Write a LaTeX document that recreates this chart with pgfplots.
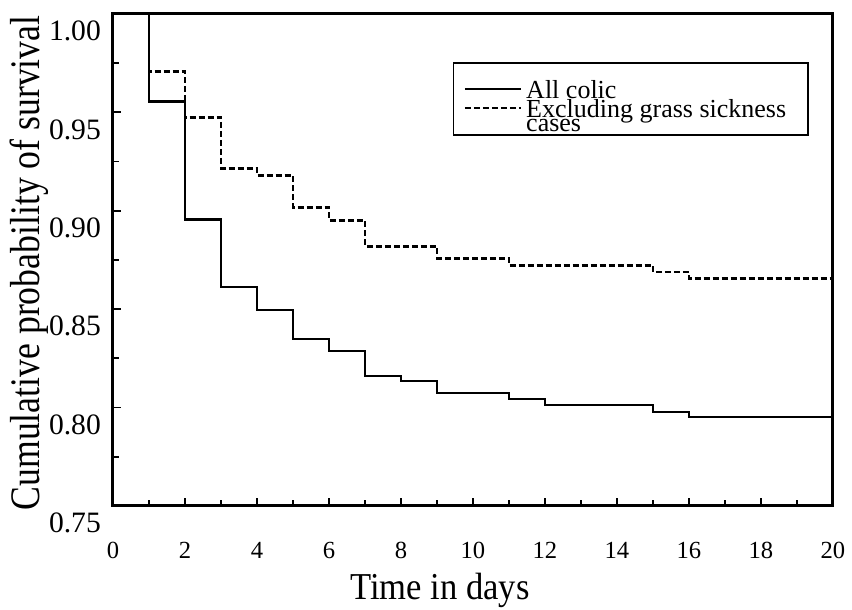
\documentclass[border=0pt]{standalone}
\usepackage{pgfplots}
\pgfplotsset{compat=1.18}
\usepackage{fontspec}
\setmainfont{Liberation Serif}
\newfontfamily\condA[FakeStretch=0.85]{Liberation Serif}
\newfontfamily\condB[FakeStretch=0.91]{Liberation Serif}
\begin{document}
\begin{tikzpicture}
\begin{axis}[
 width=360pt, height=246pt, scale only axis,
 xmin=0, xmax=20, ymin=0.75, ymax=1.0,
 xtick={0,2,...,20}, minor xtick={1,3,...,19},
 ytick={0.75,0.80,0.85,0.90,0.95,1.00},
 minor ytick={0.775,0.825,0.875,0.925,0.975},
 line width=1.5pt,
 tick style={line width=0.9pt, black},
 tick pos=left,
 major tick length=4pt, minor tick length=3pt,
 /pgf/number format/assume math mode=true,
 yticklabel style={/pgf/number format/.cd, fixed, fixed zerofill, precision=2, /tikz/.cd, font=\fontsize{14.8}{16}\selectfont, yshift=-8.5pt, xshift=-2pt},
 xticklabel style={font=\fontsize{12.3}{14}\selectfont, yshift=-14pt},
 xlabel={Time in days}, ylabel={Cumulative probability of survival},
 xlabel style={at={(axis description cs:0.454,-0.171)}, anchor=center, font=\condB\fontsize{19}{22}\selectfont},
 ylabel style={at={(axis description cs:-0.117,0.494)}, anchor=center, font=\condA\fontsize{21}{24}\selectfont},
 clip=false,
 legend style={at={(axis description cs:0.472,0.902)}, anchor=north west, draw=black, line width=0.8pt, font=\fontsize{13}{13}\selectfont, cells={anchor=base west}, row sep=-15pt, inner xsep=5pt, inner ysep=1pt, nodes={inner xsep=2pt, inner ysep=0pt, text height=16.5pt, text depth=8pt}},
 legend image code/.code={\draw[#1] (0pt,4.5pt) -- (28pt,4.5pt);},
]
\addplot[const plot, line width=1.3pt, black] coordinates {
(0,1.0) (1,0.9556) (2,0.8957) (3,0.8612) (4,0.8495) (5,0.8348) (6,0.8287) (7,0.816) (8,0.8135) (9,0.8074) (11,0.8043) (12,0.8013) (15,0.7977) (16,0.7952) (20,0.7952)
};
\addlegendentry{All colic}
\addplot[const plot, line width=1.3pt, black, dash pattern=on 3pt off 1.5pt] coordinates {
(0,1.0) (1,0.9708) (2,0.9475) (3,0.9216) (4,0.918) (5,0.9018) (6,0.8952) (7,0.882) (9,0.8759) (11,0.8723) (15,0.8688) (16,0.8657) (20,0.8657)
};
\addlegendentry{\smash{\begin{tabular}[t]{@{}l@{}}Excluding grass sickness\hspace*{4pt}\\[-6pt]cases\end{tabular}}}
\end{axis}
\pgfresetboundingbox
\path[use as bounding box] ([xshift=-56.5pt,yshift=-52pt]current axis.south west) rectangle ([xshift=9.5pt,yshift=7pt]current axis.north east);
\end{tikzpicture}
\end{document}
